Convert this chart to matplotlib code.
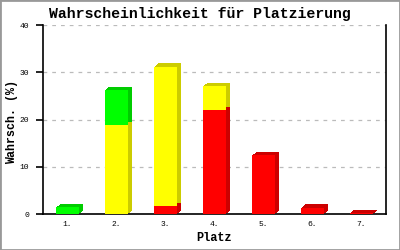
import matplotlib
matplotlib.use("Agg")
import matplotlib.pyplot as plt
import matplotlib.transforms as mtransforms
import numpy as np

places = ["1.", "2.", "3.", "4.", "5.", "6.", "7."]
red_vals = [0, 0, 1.8, 22.0, 12.5, 1.4, 0.3]
yellow_vals = [0, 18.9, 29.4, 5.1, 0, 0, 0]
green_vals = [1.5, 7.4, 0, 0, 0, 0, 0]
yticks = [0, 10, 20, 30, 40]

title = "Wahrscheinlichkeit für Platzierung"
xlabel = "Platz"
ylabel = "Wahrsch. (%)"

mono = ["Liberation Mono", "DejaVu Sans Mono"]

fig = plt.figure(figsize=(4, 2.5), dpi=100)
fig.patch.set_facecolor("white")
ax = fig.add_axes([0.1075, 0.143, 0.8575, 0.757])

x = np.arange(len(places))
w = 0.47
series = [
    (red_vals, "#ff0000", "#cc0000"),
    (yellow_vals, "#ffff00", "#cccc00"),
    (green_vals, "#00ff00", "#00cc00"),
]
# 3D depth: stacked dark copies shifted by 1..4 px
for k in range(1, 5):
    shift = mtransforms.ScaledTranslation(k / 100, 0.8 * k / 100, fig.dpi_scale_trans)
    bottom = np.zeros(len(places))
    for vals, front, dark in series:
        v = np.array(vals, dtype=float)
        ax.bar(x, v, w, bottom=bottom, color=dark, edgecolor="none",
               transform=ax.transData + shift, zorder=2, clip_on=False)
        bottom = bottom + v
bottom = np.zeros(len(places))
for vals, front, dark in series:
    v = np.array(vals, dtype=float)
    ax.bar(x, v, w, bottom=bottom, color=front, edgecolor="none", zorder=3)
    bottom = bottom + v

ax.set_xlim(-0.5, len(places) - 0.5)
ax.set_ylim(0, 40)
ax.set_yticks(yticks)
ax.set_xticks(x)
ax.set_xticklabels(places, fontsize=5.8, family=mono)
ax.set_yticklabels([str(t) for t in yticks], fontsize=5.8, family=mono)
ax.tick_params(axis="x", length=0, pad=5)
ax.tick_params(axis="y", length=5, width=1.2, direction="out", pad=5)
ax.yaxis.grid(True, linestyle=(0, (3, 4)), color="#bbbbbb", linewidth=0.9, zorder=0)
ax.set_axisbelow(True)
for s in ["left", "bottom", "right"]:
    ax.spines[s].set_linewidth(1.2)
    ax.spines[s].set_color("black")
ax.spines["top"].set_visible(False)

fig.text(0.5, 0.928, title, fontsize=10.7, family=mono, fontweight="bold",
         ha="center", va="baseline")
ax.set_xlabel(xlabel, fontsize=8.6, family=mono, fontweight="bold", labelpad=3)
ax.set_ylabel(ylabel, fontsize=8.4, family=mono, fontweight="bold")
ax.yaxis.label.set_verticalalignment("center")
ax.yaxis.set_label_coords(-0.091, 0.49)

border = plt.Rectangle((0, 0), 1, 1, transform=fig.transFigure, fill=False,
                       edgecolor="#999999", linewidth=2)
fig.patches.append(border)

fig.savefig("out.png", dpi=100)
